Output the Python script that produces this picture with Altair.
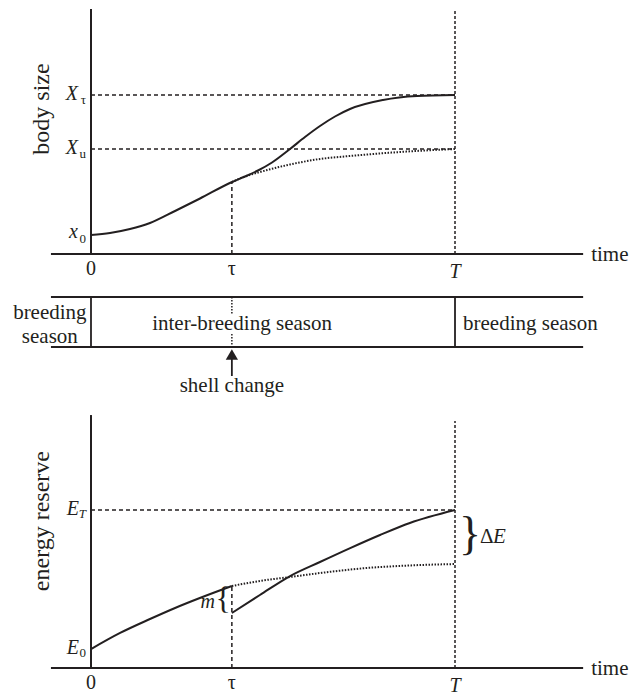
import altair as alt
import pandas as pd

INK = "#231f20"
SERIF = "Liberation Serif"

# ---------------- time axis (T = 1) ----------------
TAU = 0.387
T_END = 1.0
T_AXIS = [-0.11, 1.352]          # extent of the drawn time axes / band lines
T_DOMAIN = [-0.228, 1.478]
T_TIME_LABEL = 1.374

# ---------------- body size panel ----------------
size_t = [0.0, 0.0522, 0.1071, 0.1621, 0.2308, 0.2995, 0.3874, 0.4231, 0.4588,
          0.4973, 0.5467, 0.5879, 0.6291, 0.6703, 0.7115, 0.8022, 0.8956, 1.0]
size_v = [0.1195, 0.1321, 0.1572, 0.1950, 0.2704, 0.3491, 0.4528, 0.4874, 0.5252,
          0.5755, 0.6604, 0.7358, 0.8050, 0.8648, 0.9119, 0.9686, 0.9937, 1.0]
size_nochange_t = [0.3874, 0.4231, 0.4643, 0.5467, 0.6291, 0.7115, 0.8489, 1.0]
size_nochange_v = [0.4528, 0.4874, 0.5157, 0.5629, 0.5975, 0.6164, 0.6415, 0.6604]
X0, XU, XTAU = 0.1195, 0.6604, 1.0
SIZE_AT_TAU = 0.4528
SIZE_TOP = 1.5409
SIZE_DOMAIN = [-0.2013, 1.5409]

# ---------------- season band ----------------
BAND_DOMAIN = [-1.08, 1.22]
BAND_TEXT_V = 0.46
INTER_TEXT_T = 0.415
LEFT_TEXT_T = -0.113
ARROW_HEAD_V, ARROW_TAIL_V = -0.15, -0.58
SHELL_TEXT_V = -0.78
band_gap = [0.66, 0.26]          # dotted marker at tau interrupted by the text

# ---------------- energy panel ----------------
energy_before_t = [0.0, 0.080, 0.162, 0.231, 0.299, 0.387]
energy_before_v = [0.120, 0.222, 0.310, 0.380, 0.443, 0.519]
energy_after_t = [0.387, 0.464, 0.547, 0.629, 0.712, 0.794, 0.876, 1.0]
energy_after_v = [0.348, 0.462, 0.582, 0.671, 0.759, 0.842, 0.918, 1.0]
energy_nochange_t = [0.387, 0.464, 0.547, 0.629, 0.758, 0.876, 1.0]
energy_nochange_v = [0.519, 0.551, 0.576, 0.601, 0.633, 0.649, 0.658]
E0, ET = 0.120, 1.0
ENERGY_TOP = 1.601
ENERGY_T_TOP = 1.563
ENERGY_DOMAIN = [-0.1392, 1.6899]

W = 621
H_TOP, H_MID, H_BOT = 277, 115, 289


def enc_x():
    return alt.X("t:Q", scale=alt.Scale(domain=T_DOMAIN, nice=False, zero=False), axis=None)


def enc_y(domain):
    return alt.Y("v:Q", scale=alt.Scale(domain=domain, nice=False, zero=False), axis=None)


def curve(ts, vs, Y, dash=None, width=2.0):
    df = pd.DataFrame({"t": ts, "v": vs})
    kw = dict(color=INK, strokeWidth=width, interpolate="monotone")
    if dash:
        kw["strokeDash"] = dash
    return alt.Chart(df).mark_line(**kw).encode(x=enc_x(), y=Y)


def segs(rows, Y, dash=None, width=1.5):
    df = pd.DataFrame(rows, columns=["t", "t2", "v", "v2"])
    kw = dict(color=INK, strokeWidth=width)
    if dash:
        kw["strokeDash"] = dash
    return alt.Chart(df).mark_rule(**kw).encode(
        x=enc_x(), x2=alt.X2("t2:Q"), y=Y, y2=alt.Y2("v2:Q"))


def label(text, t, v, Y, size=20, style="normal", align="center",
          baseline="middle", dx=0, dy=0, angle=None, font=SERIF, **extra):
    df = pd.DataFrame({"t": [t], "v": [v], "label": [text]})
    kw = dict(font=font, fontSize=size, fontStyle=style, align=align,
              baseline=baseline, dx=dx, dy=dy, color=INK)
    if angle is not None:
        kw["angle"] = angle
    kw.update(extra)
    return alt.Chart(df).mark_text(**kw).encode(x=enc_x(), y=Y, text="label:N")


# ================= top panel: body size =================
Ys = enc_y(SIZE_DOMAIN)
top_layers = [
    segs([[0, T_END, XTAU, XTAU], [0, T_END, XU, XU], [TAU, TAU, 0, SIZE_AT_TAU]], Ys, dash=[4, 3]),
    segs([[T_END, T_END, 0, SIZE_TOP]], Ys, dash=[3, 2]),
    segs([[T_AXIS[0], T_AXIS[1], 0, 0], [0, 0, 0, SIZE_TOP]], Ys, width=2),
    curve(size_nochange_t, size_nochange_v, Ys, dash=[1.5, 1.5]),
    curve(size_t, size_v, Ys),
    label("X", 0, XTAU, Ys, size=20, style="italic", align="right", dx=-13, dy=-1),
    label("τ", 0, XTAU, Ys, size=13, align="right", dx=-5, dy=5),
    label("X", 0, XU, Ys, size=20, style="italic", align="right", dx=-13, dy=-1),
    label("u", 0, XU, Ys, size=13, align="right", dx=-5, dy=5),
    label("x", 0, X0, Ys, size=20, style="italic", align="right", dx=-13, dy=-3),
    label("0", 0, X0, Ys, size=13, align="right", dx=-5, dy=4),
    label("0", 0, 0, Ys, size=20, dy=15),
    label("τ", TAU, 0, Ys, size=20, dy=15),
    label("T", T_END, 0, Ys, size=20, style="italic", dy=18),
    label("time", T_TIME_LABEL, 0, Ys, size=21, align="left", dy=1),
    label("body size", -0.135, 0.912, Ys, size=24, angle=270),
]
top = alt.layer(*top_layers).properties(width=W, height=H_TOP)

# ================= middle panel: seasons =================
Yb = enc_y(BAND_DOMAIN)
mid_layers = [
    segs([[T_AXIS[0], T_AXIS[1], 0, 0], [T_AXIS[0], T_AXIS[1], 1, 1],
          [0, 0, 0, 1], [T_END, T_END, 0, 1],
          [TAU, TAU, ARROW_HEAD_V, ARROW_TAIL_V]], Yb, width=1.8),
    segs([[TAU, TAU, 1, band_gap[0]], [TAU, TAU, band_gap[1], 0]], Yb, dash=[1.5, 1.5], width=1.5),
    alt.Chart(pd.DataFrame({"t": [TAU], "v": [ARROW_HEAD_V]})).mark_point(
        shape="triangle-up", filled=True, size=150, color=INK, opacity=1).encode(x=enc_x(), y=Yb),
    label("breeding\nseason", LEFT_TEXT_T, BAND_TEXT_V, Yb, size=21, dy=-11,
          lineBreak="\n", lineHeight=24),
    label("inter-breeding season", INTER_TEXT_T, BAND_TEXT_V, Yb, size=21),
    label("breeding season", T_END, BAND_TEXT_V, Yb, size=21, align="left", dx=8),
    label("shell change", TAU, SHELL_TEXT_V, Yb, size=21),
]
mid = alt.layer(*mid_layers).properties(width=W, height=H_MID)

# ================= bottom panel: energy reserve =================
Ye = enc_y(ENERGY_DOMAIN)
m_mid = (energy_before_v[-1] + energy_after_v[0]) / 2
de_mid = (ET + energy_nochange_v[-1]) / 2
bot_layers = [
    segs([[0, T_END, ET, ET], [TAU, TAU, 0, energy_before_v[-1]]], Ye, dash=[4, 3]),
    segs([[T_END, T_END, 0, ENERGY_T_TOP]], Ye, dash=[3, 2]),
    segs([[T_AXIS[0], T_AXIS[1], 0, 0], [0, 0, 0, ENERGY_TOP]], Ye, width=2),
    curve(energy_nochange_t, energy_nochange_v, Ye, dash=[1.5, 1.5]),
    curve(energy_before_t, energy_before_v, Ye),
    curve(energy_after_t, energy_after_v, Ye),
    label("E", 0, ET, Ye, size=20, style="italic", align="right", dx=-12, dy=-1),
    label("T", 0, ET, Ye, size=13, style="italic", align="right", dx=-5, dy=4),
    label("E", 0, E0, Ye, size=20, style="italic", align="right", dx=-12, dy=-1),
    label("0", 0, E0, Ye, size=13, align="right", dx=-5, dy=4),
    label("{", TAU, m_mid, Ye, size=32, align="right", dx=-1, dy=-1),
    label("m", TAU, m_mid, Ye, size=20, style="italic", align="right", dx=-17, dy=2),
    label("}", T_END, de_mid, Ye, size=46, align="left", dx=4, dy=-2),
    label("Δ", T_END, de_mid, Ye, size=21, align="left", dx=25, dy=0),
    label("E", T_END, de_mid, Ye, size=21, style="italic", align="left", dx=38, dy=0),
    label("0", 0, 0, Ye, size=20, dy=15),
    label("τ", TAU, 0, Ye, size=20, dy=15),
    label("T", T_END, 0, Ye, size=20, style="italic", dy=18),
    label("time", T_TIME_LABEL, 0, Ye, size=21, align="left", dy=1),
    label("energy reserve", -0.135, 0.93, Ye, size=24, angle=270),
]
bot = alt.layer(*bot_layers).properties(width=W, height=H_BOT)

chart = alt.vconcat(top, mid, bot, spacing=0, bounds="flush").properties(
    padding=0, background="white"
).configure_view(stroke=None)

chart.save("out.html", embed_options={"renderer": "svg", "actions": False})
